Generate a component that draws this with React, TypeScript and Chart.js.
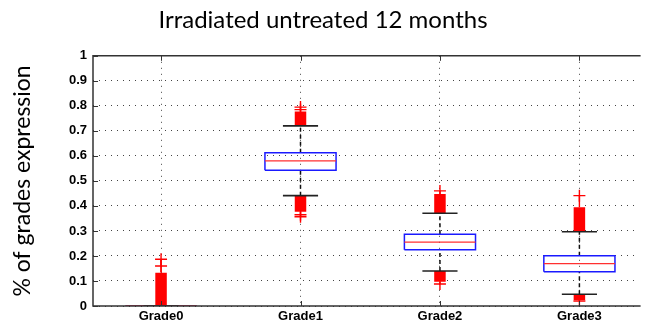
import React, { useEffect, useRef } from 'react';
import { Chart, registerables } from 'chart.js';

Chart.register(...registerables);

// ---- data ----
const categories = ['Grade0', 'Grade1', 'Grade2', 'Grade3'];
const positions = [1, 2, 3, 4];
const yTickValues = [0, 0.1, 0.2, 0.3, 0.4, 0.5, 0.6, 0.7, 0.8, 0.9, 1];

const q1 = [0, 0.543, 0.225, 0.137];
const median = [0, 0.58, 0.255, 0.169];
const q3 = [0, 0.613, 0.287, 0.201];
const whiskerLow = [0, 0.441, 0.14, 0.047];
const whiskerHigh = [0, 0.72, 0.371, 0.297];
// runs of densely packed outliers (appear as solid red columns)
const denseHighTop = [0.133, 0.777, 0.448, 0.395];
const denseLowBottom = [0, 0.377, 0.097, 0.024];
// individually visible outliers ("+")
const highOutliers = [[0.16, 0.187], [0.785, 0.795], [0.46], [0.441]];
const lowOutliers = [[], [0.365, 0.357], [0.088], [0.02]];

const TITLE = 'Irradiated untreated 12 months';
const Y_TITLE = '% of grades expression';

// ---- geometry (style) ----
const BOX_HALF = 0.255;
const CAP_HALF = 0.126;
const X_MIN = 0.512;
const X_MAX = 4.4245;

type P = { x: number; y: number | null };
const seg = (x1: number, y1: number, x2: number, y2: number): P[] => [
  { x: x1, y: y1 },
  { x: x2, y: y2 },
  { x: x2, y: null },
];

function buildDatasets() {
  const box: P[] = [];
  const med: P[] = [];
  const whisk: P[] = [];
  const caps: P[] = [];
  const dense: P[] = [];
  const thin: P[] = [];
  const crosses: P[] = [];
  positions.forEach((p, i) => {
    box.push(
      { x: p - BOX_HALF, y: q1[i] },
      { x: p + BOX_HALF, y: q1[i] },
      { x: p + BOX_HALF, y: q3[i] },
      { x: p - BOX_HALF, y: q3[i] },
      { x: p - BOX_HALF, y: q1[i] },
      { x: p, y: null }
    );
    med.push(...seg(p - BOX_HALF, median[i], p + BOX_HALF, median[i]));
    whisk.push(...seg(p, q3[i], p, whiskerHigh[i]));
    whisk.push(...seg(p, whiskerLow[i], p, q1[i]));
    caps.push(...seg(p - CAP_HALF, whiskerHigh[i], p + CAP_HALF, whiskerHigh[i]));
    caps.push(...seg(p - CAP_HALF, whiskerLow[i], p + CAP_HALF, whiskerLow[i]));
    dense.push(...seg(p, whiskerHigh[i], p, denseHighTop[i]));
    if (denseLowBottom[i] < whiskerLow[i]) dense.push(...seg(p, denseLowBottom[i], p, whiskerLow[i]));
    if (highOutliers[i].length) thin.push(...seg(p, denseHighTop[i], p, Math.max(...highOutliers[i])));
    if (lowOutliers[i].length) thin.push(...seg(p, Math.min(...lowOutliers[i]), p, denseLowBottom[i]));
    highOutliers[i].forEach((v) => crosses.push({ x: p, y: v }));
    lowOutliers[i].forEach((v) => crosses.push({ x: p, y: v }));
  });
  const line = (data: P[], color: string, width: number, order: number, extra: any = {}) => ({
    data,
    showLine: true,
    borderColor: color,
    backgroundColor: color,
    borderWidth: width,
    pointRadius: 0,
    spanGaps: false,
    order,
    ...extra,
  });
  return [
    {
      data: crosses,
      showLine: false,
      pointStyle: 'cross',
      pointRadius: 6,
      borderColor: '#ff0000',
      backgroundColor: '#ff0000',
      pointBorderWidth: 1.4,
      order: 1,
    },
    line(caps, '#222222', 1.6, 2),
    line(med, '#ff3030', 1.3, 3),
    line(box, '#1a1aff', 1.5, 4),
    line(whisk, '#111111', 1.5, 5, { borderDash: [4, 3] }),
    line(thin, '#ff0000', 1.4, 6),
    line(dense, '#ff0000', 11.5, 7, { borderCapStyle: 'butt' }),
  ];
}

const framePlugin = {
  id: 'matlabFrame',
  afterDatasetsDraw(chart: any) {
    const { ctx, chartArea } = chart;
    const { left, top, bottom, right } = chartArea;
    const xs = chart.scales.x;
    const ys = chart.scales.y;
    ctx.save();
    ctx.strokeStyle = '#333333';
    ctx.lineWidth = 1.5;
    ctx.beginPath();
    ctx.moveTo(right + 2, top);
    ctx.lineTo(left, top);
    ctx.lineTo(left, bottom);
    ctx.lineTo(right + 2, bottom);
    ctx.stroke();
    ctx.lineWidth = 1;
    ctx.beginPath();
    positions.forEach((p) => {
      const x = Math.round(xs.getPixelForValue(p)) + 0.5;
      ctx.moveTo(x, top);
      ctx.lineTo(x, top + 5);
      ctx.moveTo(x, bottom);
      ctx.lineTo(x, bottom - 5);
    });
    yTickValues.forEach((v) => {
      const y = Math.round(ys.getPixelForValue(v)) + 0.5;
      ctx.moveTo(left, y);
      ctx.lineTo(left + 5, y);
    });
    ctx.stroke();
    ctx.restore();
  },
};

export default function App() {
  const ref = useRef<HTMLCanvasElement | null>(null);
  useEffect(() => {
    if (!ref.current) return;
    const tickFont = { family: "'Liberation Sans', Arial, sans-serif", size: 13, weight: 'bold' as const };
    const chart = new Chart(ref.current, {
      type: 'scatter',
      data: { datasets: buildDatasets() as any },
      options: {
        animation: false,
        responsive: false,
        devicePixelRatio: 1,
        layout: { padding: { left: 0, right: 0, top: 0, bottom: 0 } },
        plugins: {
          legend: { display: false },
          tooltip: { enabled: false },
          title: {
            display: true,
            text: TITLE,
            color: '#000',
            font: { family: 'Lato, sans-serif', size: 24, weight: 'normal' },
            padding: { top: 6, bottom: 21 },
          },
        },
        scales: {
          x: {
            type: 'linear',
            min: X_MIN,
            max: X_MAX,
            afterBuildTicks: (s: any) => {
              s.ticks = positions.map((v) => ({ value: v }));
            },
            afterFit: (s: any) => {
              s.height = 18;
            },
            ticks: {
              autoSkip: false,
              maxRotation: 0,
              color: '#000',
              font: tickFont,
              padding: 3,
              callback: (v: any) => {
                const i = positions.indexOf(Number(v));
                return i >= 0 ? categories[i] : '';
              },
            },
            grid: { color: '#444', lineWidth: 1, drawTicks: false },
            border: { display: false, dash: [1, 5] },
          },
          y: {
            type: 'linear',
            min: 0,
            max: 1,
            afterBuildTicks: (s: any) => {
              s.ticks = yTickValues.map((v) => ({ value: v }));
            },
            afterFit: (s: any) => {
              s.width = 93;
            },
            ticks: {
              color: '#000',
              font: tickFont,
              padding: 6,
              callback: (v: any) => String(Number(v)),
            },
            grid: { color: '#444', lineWidth: 1, drawTicks: false },
            border: { display: false, dash: [1, 5] },
            title: {
              display: true,
              text: Y_TITLE,
              color: '#000',
              font: { family: 'Lato, sans-serif', size: 23, weight: 'normal' },
              padding: { top: 9, bottom: 0 },
            },
          },
        },
      },
      plugins: [framePlugin],
    });
    return () => chart.destroy();
  }, []);
  return (
    <div style={{ position: 'fixed', left: 0, top: 0, width: 646, height: 324, background: '#fff' }}>
      <canvas ref={ref} width={646} height={324} style={{ display: 'block' }} />
    </div>
  );
}
